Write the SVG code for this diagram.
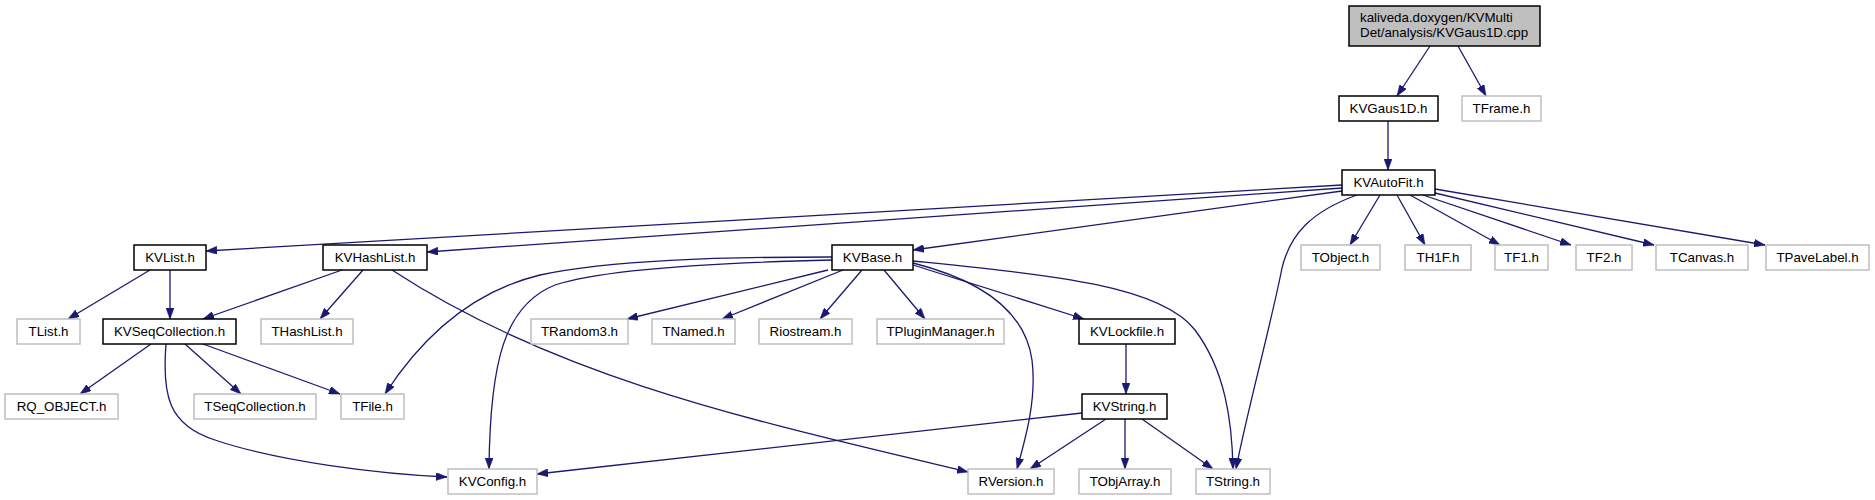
<svg xmlns="http://www.w3.org/2000/svg" width="1875" height="500" viewBox="0 0 1875 500">
<style>
.n rect{fill:#fff;stroke:#bfbfbf;stroke-width:1.5}
.n.k rect{stroke:#000;stroke-width:1.5}
.n.r rect{fill:#bfbfbf;stroke:#000}
.n text{font-family:"Liberation Sans",Arial,Helvetica,sans-serif;font-size:13.33px;fill:#000;text-anchor:middle}
.n.r text{text-anchor:start}
#edges path{fill:none;stroke:#191970;stroke-width:1.3;marker-end:url(#ah)}
</style>
<defs>
<marker id="ah" markerUnits="userSpaceOnUse" markerWidth="11" markerHeight="8" refX="11" refY="4" orient="auto">
<path d="M0,0 L11,4 L0,8 z" fill="#191970" stroke="#191970" stroke-width="0.5"/>
</marker>
</defs>
<rect x="0" y="0" width="1875" height="500" fill="#fff"/>
<g id="edges">
<path d="M1430,46 L1397,96"/>
<path d="M1458,46 L1486,96"/>
<path d="M1388,121 L1388,170"/>
<path d="M1342,185 L206,251"/>
<path d="M1342,188 L427,252"/>
<path d="M1342,191 L913,250"/>
<path d="M1357,195 C1310,212 1290,235 1282,268 C1272,320 1245,420 1236,469"/>
<path d="M1380,195 L1350,245"/>
<path d="M1397,195 L1425,245"/>
<path d="M1410,195 L1500,245"/>
<path d="M1423,195 L1571,245"/>
<path d="M1435,193 L1654,245"/>
<path d="M1435,189 L1765,245"/>
<path d="M150,270 L68,319"/>
<path d="M170,270 L170,319"/>
<path d="M342,270 L203,319"/>
<path d="M363,270 L320,319"/>
<path d="M392,270 C560,380 760,422 968,472"/>
<path d="M151,344 L80,394"/>
<path d="M185,344 L241,394"/>
<path d="M203,344 L340,394"/>
<path d="M166,344 C162,395 168,425 215,440 C280,462 380,474 447,477"/>
<path d="M828,270 L627,319"/>
<path d="M843,270 L722,319"/>
<path d="M862,270 L820,319"/>
<path d="M884,270 L925,319"/>
<path d="M913,265 L1084,319"/>
<path d="M832,257 C720,257 610,260 540,275 C470,292 420,340 385,394"/>
<path d="M832,260 C700,263 600,270 555,285 C505,305 490,360 489,469"/>
<path d="M913,263 C980,280 1025,310 1032,360 C1037,400 1025,440 1017,469"/>
<path d="M913,261 C1050,275 1160,285 1195,330 C1225,370 1232,420 1233,469"/>
<path d="M1126,344 L1126,394"/>
<path d="M1082,413 L537,474"/>
<path d="M1106,419 L1030,469"/>
<path d="M1125,419 L1125,469"/>
<path d="M1142,419 L1213,469"/>
</g>
<g id="root" class="n r"><rect x="1349" y="6" width="191" height="40"/><text x="1360" y="21.5">kaliveda.doxygen/KVMulti</text><text x="1360" y="36.5">Det/analysis/KVGaus1D.cpp</text></g>
<g id="KVGaus1D" class="n k"><rect x="1339" y="96" width="99" height="25"/><text x="1388.5" y="113.3">KVGaus1D.h</text></g>
<g id="TFrame" class="n"><rect x="1462" y="96" width="79" height="25"/><text x="1501.5" y="113.3">TFrame.h</text></g>
<g id="KVAutoFit" class="n k"><rect x="1342" y="170" width="93" height="25"/><text x="1388.5" y="187.3">KVAutoFit.h</text></g>
<g id="KVList" class="n k"><rect x="134" y="245" width="72" height="25"/><text x="170" y="262.3">KVList.h</text></g>
<g id="KVHashList" class="n k"><rect x="323" y="245" width="104" height="25"/><text x="375" y="262.3">KVHashList.h</text></g>
<g id="KVBase" class="n k"><rect x="832" y="245" width="81" height="25"/><text x="872.5" y="262.3">KVBase.h</text></g>
<g id="TObject" class="n"><rect x="1301" y="245" width="79" height="25"/><text x="1340.5" y="262.3">TObject.h</text></g>
<g id="TH1F" class="n"><rect x="1405" y="245" width="66" height="25"/><text x="1438" y="262.3">TH1F.h</text></g>
<g id="TF1" class="n"><rect x="1495" y="245" width="53" height="25"/><text x="1521.5" y="262.3">TF1.h</text></g>
<g id="TF2" class="n"><rect x="1576" y="245" width="56" height="25"/><text x="1604" y="262.3">TF2.h</text></g>
<g id="TCanvas" class="n"><rect x="1656" y="245" width="92" height="25"/><text x="1702" y="262.3">TCanvas.h</text></g>
<g id="TPaveLabel" class="n"><rect x="1766" y="245" width="103" height="25"/><text x="1817.5" y="262.3">TPaveLabel.h</text></g>
<g id="TList" class="n"><rect x="17" y="319" width="63" height="25"/><text x="48.5" y="336.3">TList.h</text></g>
<g id="KVSeqCollection" class="n k"><rect x="103" y="319" width="133" height="25"/><text x="169.5" y="336.3">KVSeqCollection.h</text></g>
<g id="THashList" class="n"><rect x="261" y="319" width="92" height="25"/><text x="307" y="336.3">THashList.h</text></g>
<g id="TRandom3" class="n"><rect x="531" y="319" width="97" height="25"/><text x="579.5" y="336.3">TRandom3.h</text></g>
<g id="TNamed" class="n"><rect x="652" y="319" width="83" height="25"/><text x="693.5" y="336.3">TNamed.h</text></g>
<g id="Riostream" class="n"><rect x="759" y="319" width="93" height="25"/><text x="805.5" y="336.3">Riostream.h</text></g>
<g id="TPluginManager" class="n"><rect x="877" y="319" width="127" height="25"/><text x="940.5" y="336.3">TPluginManager.h</text></g>
<g id="KVLockfile" class="n k"><rect x="1079" y="319" width="96" height="25"/><text x="1127" y="336.3">KVLockfile.h</text></g>
<g id="RQ_OBJECT" class="n"><rect x="5" y="394" width="113" height="25"/><text x="61.5" y="411.3">RQ_OBJECT.h</text></g>
<g id="TSeqCollection" class="n"><rect x="194" y="394" width="122" height="25"/><text x="255" y="411.3">TSeqCollection.h</text></g>
<g id="TFile" class="n"><rect x="341" y="394" width="63" height="25"/><text x="372.5" y="411.3">TFile.h</text></g>
<g id="KVString" class="n k"><rect x="1082" y="394" width="85" height="25"/><text x="1124.5" y="411.3">KVString.h</text></g>
<g id="KVConfig" class="n"><rect x="448" y="469" width="89" height="25"/><text x="492.5" y="486.3">KVConfig.h</text></g>
<g id="RVersion" class="n"><rect x="968" y="469" width="86" height="25"/><text x="1011" y="486.3">RVersion.h</text></g>
<g id="TObjArray" class="n"><rect x="1079" y="469" width="92" height="25"/><text x="1125" y="486.3">TObjArray.h</text></g>
<g id="TString" class="n"><rect x="1196" y="469" width="74" height="25"/><text x="1233" y="486.3">TString.h</text></g>
</svg>
